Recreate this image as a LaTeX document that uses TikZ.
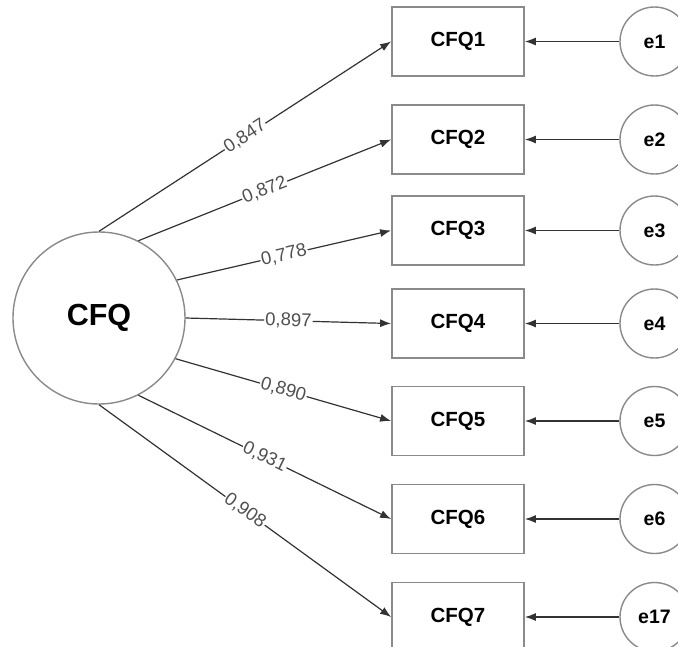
\documentclass[tikz,border=0pt]{standalone}
\usepackage{fontspec}
\setmainfont{Liberation Sans}
\usetikzlibrary{arrows.meta}
\definecolor{boxline}{HTML}{8A8A8A}
\definecolor{arrline}{HTML}{333333}
\definecolor{lblcol}{HTML}{505050}
\begin{document}
\begin{tikzpicture}[x=1pt,y=-1pt,
  obs/.style={draw=boxline,line width=1.8pt,minimum width=132pt,minimum height=69pt,inner sep=0pt,
    font=\fontsize{20.5}{24}\selectfont\bfseries,fill=white},
  err/.style={circle,draw=boxline,line width=1.4pt,minimum size=69pt,inner sep=0pt,
    font=\fontsize{19.5}{22}\selectfont\bfseries,fill=white},
  lat/.style={circle,draw=boxline,line width=1.4pt,minimum size=172pt,inner sep=0pt,
    font=\fontsize{30.5}{34}\selectfont\bfseries},
  arr/.style={draw=arrline,line width=1.2pt,-{Latex[length=11pt,width=8pt]}},
  lbl/.style={midway,sloped,fill=white,inner sep=1pt,text=lblcol,font=\fontsize{18.5}{20}\selectfont}]
\useasboundingbox (0,0) rectangle (678,646);
\clip (0,0) rectangle (678,646);
\fill[white] (0,0) rectangle (678,646);

\node[lat] (F) at (99,318) {CFQ};

\node[obs] (b1) at (458,41.5) {CFQ1};
\node[obs] (b2) at (458,139.5) {CFQ2};
\node[obs] (b3) at (458,230.5) {CFQ3};
\node[obs] (b4) at (458,323.5) {CFQ4};
\node[obs] (b5) at (458,421) {CFQ5};
\node[obs] (b6) at (458,519) {CFQ6};
\node[obs] (b7) at (458,617) {CFQ7};

\node[err] (e1) at (654.5,41.5) {e1};
\node[err] (e2) at (654.5,139.5) {e2};
\node[err] (e3) at (654.5,230.5) {e3};
\node[err] (e4) at (654.5,323.5) {e4};
\node[err] (e5) at (654.5,421) {e5};
\node[err] (e6) at (654.5,519) {e6};
\node[err] (e7) at (654.5,617) {e17};

\draw[arr] (F.90) -- node[lbl] {0,847} (b1.west);
\draw[arr] (F.63) -- node[lbl] {0,872} (b2.west);
\draw[arr] (F.26) -- node[lbl] {0,778} (b3.west);
\draw[arr] (F.0) -- node[lbl] {0,897} (b4.west);
\draw[arr] (F.-28) -- node[lbl] {0,890} (b5.west);
\draw[arr] (F.-63) -- node[lbl] {0,931} (b6.west);
\draw[arr] (F.-90) -- node[lbl] {0,908} (b7.west);

\draw[arr] (e1) -- (b1);
\draw[arr] (e2) -- (b2);
\draw[arr] (e3) -- (b3);
\draw[arr] (e4) -- (b4);
\draw[arr] (e5) -- (b5);
\draw[arr] (e6) -- (b6);
\draw[arr] (e7) -- (b7);
\end{tikzpicture}
\end{document}
